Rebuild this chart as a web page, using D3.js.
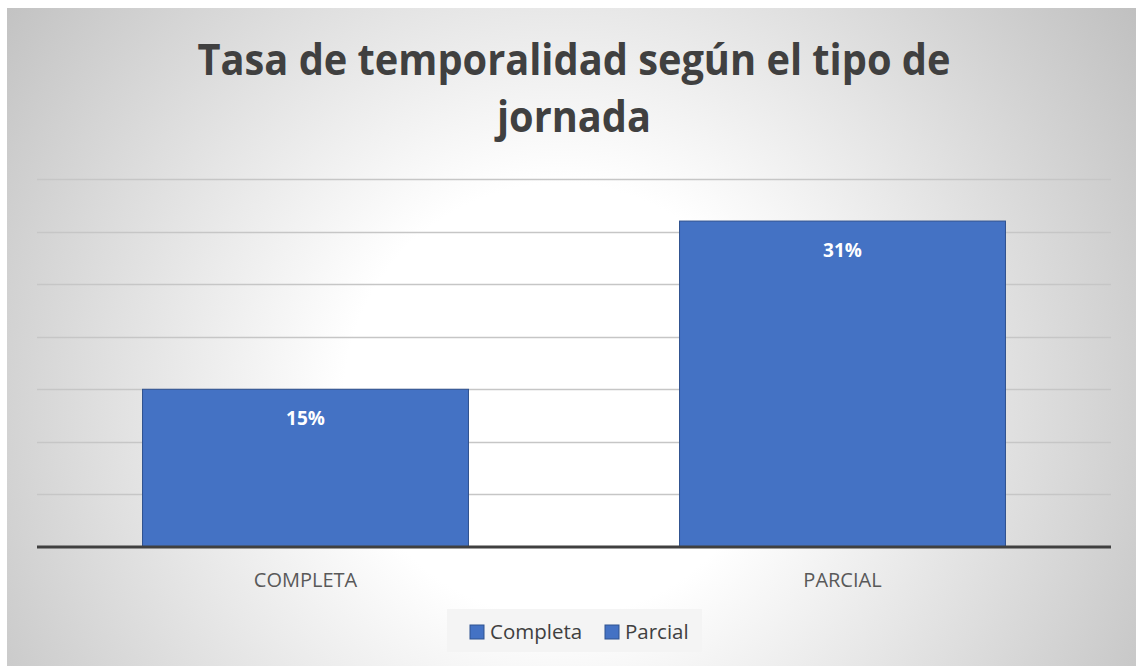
<!DOCTYPE html>
<html>
<head>
<meta charset="utf-8">
<script src="https://cdn.jsdelivr.net/npm/d3@7"></script>
<style>
  html, body { margin: 0; padding: 0; background: #fff; }
  svg { display: block; }
</style>
</head>
<body>
<div id="chart"></div>
<script>
const categories = ["COMPLETA", "PARCIAL"];
const values = [0.15, 0.31];
const labels = ["15%", "31%"];
const legendNames = ["Completa", "Parcial"];
const yTicks = [0, 0.05, 0.10, 0.15, 0.20, 0.25, 0.30, 0.35];

const W = 1136, H = 666;
const svg = d3.select("#chart").append("svg")
  .attr("width", W)
  .attr("height", H);

// background gradient
const defs = svg.append("defs");
const grad = defs.append("radialGradient")
  .attr("id", "bg")
  .attr("gradientUnits", "userSpaceOnUse")
  .attr("cx", 560).attr("cy", 400).attr("r", 720);
grad.append("stop").attr("offset", "0%").attr("stop-color", "#ffffff");
grad.append("stop").attr("offset", "30%").attr("stop-color", "#ffffff");
grad.append("stop").attr("offset", "100%").attr("stop-color", "#bdbdbd");

svg.append("rect")
  .attr("x", 7).attr("y", 8)
  .attr("width", W - 7).attr("height", H - 8)
  .attr("fill", "url(#bg)");

const x = d3.scaleBand()
  .domain(categories)
  .range([37, 1111])
  .paddingInner(0.393)
  .paddingOuter(0.1965);

const y = d3.scaleLinear()
  .domain([0, 0.35])
  .range([547, 179]);

// gridlines
svg.append("g")
  .selectAll("line")
  .data(yTicks.slice(1))
  .join("line")
  .attr("x1", 37).attr("x2", 1111)
  .attr("y1", d => Math.round(y(d)) + 0.5)
  .attr("y2", d => Math.round(y(d)) + 0.5)
  .attr("stroke", "#c6c6c6")
  .attr("stroke-width", 1.3);

// bars
svg.append("g")
  .selectAll("rect")
  .data(values)
  .join("rect")
  .attr("x", (d, i) => x(categories[i]))
  .attr("y", d => y(d))
  .attr("width", x.bandwidth())
  .attr("height", d => y(0) - y(d))
  .attr("fill", "#4472c4")
  .attr("stroke", "#2f528f")
  .attr("stroke-width", 1);

// value labels
svg.append("g")
  .selectAll("text")
  .data(values)
  .join("text")
  .attr("x", (d, i) => x(categories[i]) + x.bandwidth() / 2)
  .attr("y", d => y(d) + 36)
  .attr("text-anchor", "middle")
  .attr("fill", "#ffffff")
  .style("font-family", "'Open Sans', sans-serif")
  .style("font-weight", "bold")
  .style("font-size", "19px")
  .text((d, i) => labels[i]);

// axis line
svg.append("line")
  .attr("x1", 37).attr("x2", 1111)
  .attr("y1", y(0)).attr("y2", y(0))
  .attr("stroke", "#404040")
  .attr("stroke-width", 3);

// category labels
svg.append("g")
  .selectAll("text")
  .data(categories)
  .join("text")
  .attr("x", d => x(d) + x.bandwidth() / 2)
  .attr("y", 587)
  .attr("text-anchor", "middle")
  .attr("fill", "#595959")
  .style("font-family", "'Open Sans', sans-serif")
  .style("font-size", "20px")
  .text(d => d);

// title
const title = svg.append("text")
  .attr("text-anchor", "middle")
  .attr("fill", "#404040")
  .style("font-family", "'Open Sans', sans-serif")
  .style("font-weight", "bold")
  .style("font-size", "43px");
title.append("tspan")
  .attr("x", 574).attr("y", 75)
  .attr("textLength", 753)
  .attr("lengthAdjust", "spacingAndGlyphs")
  .text("Tasa de temporalidad según el tipo de");
title.append("tspan")
  .attr("x", 574).attr("y", 132)
  .attr("textLength", 154)
  .attr("lengthAdjust", "spacingAndGlyphs")
  .text("jornada");

// legend
svg.append("rect")
  .attr("x", 447).attr("y", 609)
  .attr("width", 255).attr("height", 43)
  .attr("fill", "#f4f4f4");

const legend = svg.append("g")
  .selectAll("g")
  .data(legendNames)
  .join("g")
  .attr("transform", (d, i) => `translate(${[470, 605][i]},625)`);
legend.append("rect")
  .attr("width", 14).attr("height", 14)
  .attr("fill", "#4472c4")
  .attr("stroke", "#2f528f")
  .attr("stroke-width", 1);
legend.append("text")
  .attr("x", 20).attr("y", 13.5)
  .attr("fill", "#404040")
  .style("font-family", "'Open Sans', sans-serif")
  .style("font-size", "20.5px")
  .text(d => d);
</script>
</body>
</html>
